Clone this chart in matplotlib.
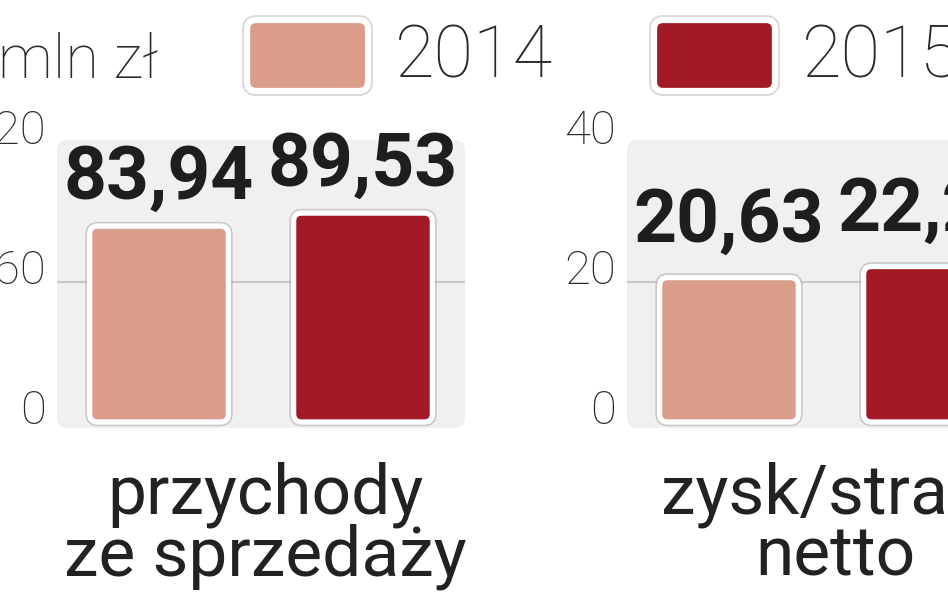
import matplotlib.pyplot as plt
from matplotlib.patches import FancyBboxPatch

# --- data ---
years = ['2014', '2015']
categories = ['przychody\nze sprzedaży', 'zysk/strata\nnetto']
sales = [83.94, 89.53]
profit = [20.63, 22.21]
sales_ticks = [0, 60, 120]
profit_ticks = [0, 20, 40]
unit_label = 'mln zł'

colors = ['#d99d89', '#a11a26']
W, H = 948, 593

# no narrow bold face is installed, so Roboto Bold a bit smaller
BOLD = dict(family=['Roboto', 'DejaVu Sans'], fontweight='bold', color='#1e1e1e')
LIGHT = dict(family=['Roboto', 'DejaVu Sans'], fontweight='light', color='#2a2a2a')
REG = dict(family=['Roboto', 'DejaVu Sans'], color='#222222')

fig = plt.figure(figsize=(W / 100, H / 100), dpi=100)
fig.patch.set_facecolor('white')

# overlay in pixel coords (origin top-left) for legend and labels
lay = fig.add_axes([0, 0, 1, 1], zorder=5)
lay.set_xlim(0, W)
lay.set_ylim(H, 0)
lay.axis('off')

TOP, ZERO, PW = 142, 422, 408


def rounded(ax, x, y, w, h, r, aspect, **kw):
    p = FancyBboxPatch((x, y), w, h, boxstyle=f'round,pad=0,rounding_size={r}',
                       mutation_aspect=aspect, clip_on=False, **kw)
    ax.add_patch(p)
    return p


def draw_panel(left_px, values, ticks, label, gap):
    ax = fig.add_axes([left_px / W, 1 - ZERO / H, PW / W, (ZERO - TOP) / H])
    ax.set_xlim(-0.5, 1.5)
    ax.set_ylim(ticks[0], ticks[-1])
    ax.axis('off')

    # grey rounded background
    rounded(ax, 0, -0.021, 1, 1.028, 0.025, PW / (ZERO - TOP),
            transform=ax.transAxes, facecolor='#f0f0f0', edgecolor='none', zorder=0)
    for t in ticks[1:-1]:
        ax.axhline(t, color='#c8c8c8', lw=1.5, zorder=1)

    xpx = PW / 2
    ypx = (ZERO - TOP) / (ticks[-1] - ticks[0])
    asp = xpx / ypx
    bars = ax.bar(range(len(values)), values, width=0.68, color=colors)
    for rect, c in zip(bars, colors):
        x0, y0 = rect.get_x(), rect.get_y()
        w, h = rect.get_width(), rect.get_height()
        rect.set_visible(False)
        rounded(ax, x0, y0, w, h, 8 / xpx, asp, facecolor='none',
                edgecolor='#9a9a9a', lw=6.2, alpha=0.45, zorder=2)
        rounded(ax, x0, y0, w, h, 8 / xpx, asp, facecolor=c,
                edgecolor='white', lw=3.8, zorder=3)

    for i, v in enumerate(values):
        ax.annotate(f'{v:.2f}'.replace('.', ','), xy=(i, v), xytext=(0, gap),
                    textcoords='offset pixels', ha='center', va='baseline',
                    fontsize=54, zorder=4, **BOLD)

    for t in ticks:
        ax.annotate(str(t), xy=(0, t), xycoords=('axes fraction', 'data'),
                    xytext=(-11, 11), textcoords='offset pixels',
                    ha='right', va='center', fontsize=34, **LIGHT)

    cx = left_px + PW / 2 + 4
    for j, line in enumerate(label.split('\n')):
        lay.text(cx, 513 + j * 63, line, ha='center', va='baseline', fontsize=50, **REG)


draw_panel(57, sales, sales_ticks, categories[0], 27)
draw_panel(627, profit, profit_ticks, categories[1], 36)

# legend
lay.text(-2, 78, unit_label, ha='left', va='baseline', fontsize=44, **LIGHT)
box_left = [247, 654]
text_left = [395, 802]
for k, (yr, c) in enumerate(zip(years, colors)):
    rounded(lay, box_left[k], 20, 121, 71, 9, 1, facecolor='none',
            edgecolor='#9a9a9a', lw=7, alpha=0.4, zorder=1)
    rounded(lay, box_left[k], 20, 121, 71, 9, 1, facecolor=c,
            edgecolor='white', lw=4.5, zorder=2)
    lay.text(text_left[k], 78, yr, ha='left', va='baseline', fontsize=52, **LIGHT)

fig.savefig('out.png', dpi=100, facecolor='white')
